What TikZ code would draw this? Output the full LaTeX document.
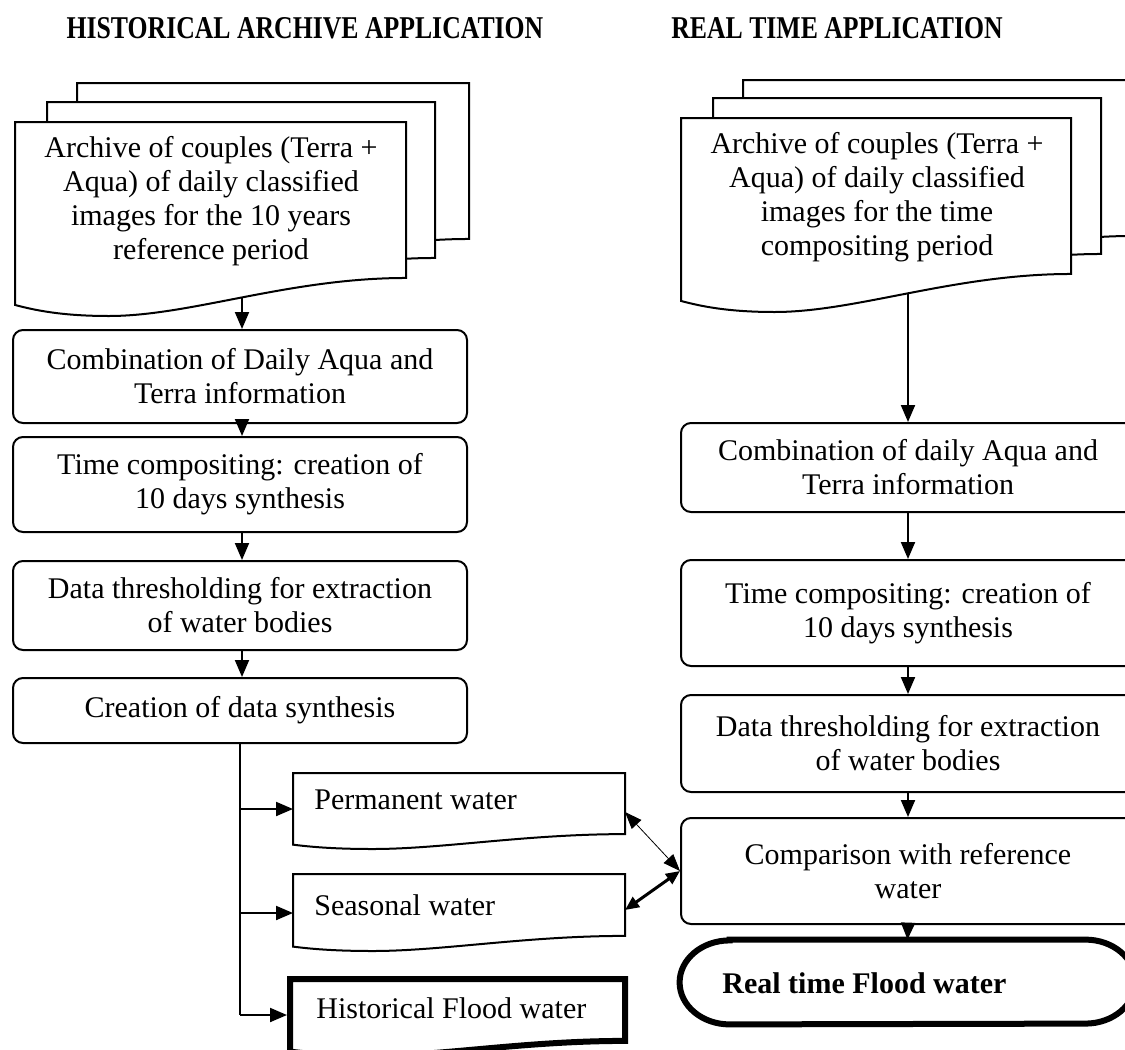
\documentclass[tikz,border=0pt]{standalone}
\usepackage{fontspec}
\setmainfont{Liberation Serif}
\usetikzlibrary{arrows.meta}
\newcommand{\bodyfont}{\fontsize{15}{17}\selectfont}
\newcommand{\docsheet}[5][]{%
  \filldraw[fill=white,draw=black,line width=1pt,#1] (#2,#3) -- ({#2+#4},#3) -- ({#2+#4},{#3+0.804*#5})
  .. controls ({#2+0.7*#4},{#3+0.804*#5}) and ({#2+0.45*#4},{#3+#5}) .. ({#2+0.24*#4},{#3+#5})
  .. controls ({#2+0.12*#4},{#3+#5}) and ({#2+0.05*#4},{#3+0.97*#5}) .. (#2,{#3+0.943*#5}) -- cycle;}
\begin{document}
\begin{tikzpicture}[x=0.5pt,y=-0.5pt,
  proc/.style={draw,line width=1pt,rounded corners=5pt,align=center,inner sep=0pt,font=\bodyfont},
  arr/.style={line width=1pt,-{Triangle[length=8.5pt,width=7pt]}},
  lbl/.style={font=\bodyfont,align=center,inner sep=0pt},
  head/.style={font=\fontsize{13}{15}\selectfont\bfseries,inner sep=0pt}]
\useasboundingbox (0,0) rectangle (1125,1050);
\clip (0,0) rectangle (1125,1050);

% headings
\node[head] (h1) at (305,28) {\scalebox{0.99}[1.22]{HISTORICAL ARCHIVE APPLICATION}};
\node[head] (h2) at (837,28) {\scalebox{0.99}[1.22]{REAL TIME APPLICATION}};

% left document stack
\docsheet{77}{83}{392}{194}
\docsheet{47}{102}{388}{194}
\docsheet{15}{122}{391}{194}
\node[lbl] (ldoc) at (211,201) {Archive of couples (Terra +\\Aqua) of daily classified\\images for the 10 years\\reference period};
\coordinate (ldocout) at (242,297);

% right document stack
\docsheet{743}{80}{390}{194}
\docsheet{713}{98}{388}{194}
\docsheet{681}{118}{390}{194}
\node[lbl] (rdoc) at (877,197) {Archive of couples (Terra +\\Aqua) of daily classified\\images for the time\\compositing period};
\coordinate (rdocout) at (908,293);

% left process boxes
\node[proc,minimum width=227pt,minimum height=46.5pt] (b1) at (240,376.5) {Combination of Daily Aqua and\\Terra information};
\node[proc,minimum width=227pt,minimum height=47.5pt] (b2) at (240,484.5) {Time compositing: creation of\\10 days synthesis};
\node[proc,minimum width=227pt,minimum height=44.5pt] (b3) at (240,605.5) {Data thresholding for extraction\\of water bodies};
\node[proc,minimum width=227pt,minimum height=32.5pt] (b4) at (240,710.5) {Creation of data synthesis};

% right process boxes
\node[proc,minimum width=227pt,minimum height=44.5pt] (r1) at (908,467.5) {Combination of daily Aqua and\\Terra information};
\node[proc,minimum width=227pt,minimum height=53pt] (r2) at (908,613) {Time compositing: creation of\\10 days synthesis};
\node[proc,minimum width=227pt,minimum height=48.5pt] (r3) at (908,743.5) {Data thresholding for extraction\\of water bodies};
\node[proc,minimum width=227pt,minimum height=53pt] (r4) at (908,871) {Comparison with reference\\water};

% terminator
\node[minimum width=227.5pt,minimum height=42pt,inner sep=0pt] (rt) at (907.5,982) {};
\draw[line width=3pt] ([xshift=25pt]rt.north west) -- ([xshift=-25pt]rt.north east)
  arc[start angle=90,end angle=-90,x radius=25pt,y radius=21pt]
  -- ([xshift=25pt]rt.south west)
  arc[start angle=270,end angle=90,x radius=25pt,y radius=21pt] -- cycle;
\node[font=\bodyfont\bfseries,anchor=west,inner sep=0pt] (rtl) at (722,983) {Real time Flood water};

% output documents
\docsheet{293}{773}{332}{76}
\node[lbl,anchor=west] (perm) at (314,800) {Permanent water};
\coordinate (perm-w) at (293,809);
\coordinate (perm-e) at (625,812);
\docsheet{293}{874}{332}{77}
\node[lbl,anchor=west] (seas) at (314,905) {Seasonal water};
\coordinate (seas-w) at (293,913);
\coordinate (seas-e) at (625,910);
\docsheet[line width=3pt]{290}{979}{335}{77}
\node[lbl,anchor=west] (hist) at (316,1008) {Historical Flood water};
\coordinate (hist-w) at (287,1015);

% left connectors
\draw[arr] (ldocout) -- (ldocout |- b1.north);
\draw[arr] ([xshift=1pt]b1.south) -- ([xshift=1pt]b2.north);
\draw[arr] ([xshift=1pt]b2.south) -- ([xshift=1pt]b3.north);
\draw[arr] ([xshift=1pt]b3.south) -- ([xshift=1pt]b4.north);
\draw[line width=1pt] (b4.south) -- (b4.south |- hist-w);
\draw[arr] (b4.south |- perm-w) -- (perm-w);
\draw[arr] (b4.south |- seas-w) -- (seas-w);
\draw[arr] (b4.south |- hist-w) -- (hist-w);

% right connectors
\draw[arr] (rdocout) -- (rdocout |- r1.north);
\draw[arr] (r1.south) -- (r2.north);
\draw[arr] (r2.south) -- (r3.north);
\draw[arr] (r3.south) -- (r4.north);
\draw[arr] (r4.south) -- (rt.north);

% comparison links
\draw[line width=0.4pt,{Triangle[length=8.5pt,width=6.5pt]}-{Triangle[length=8.5pt,width=6.5pt]}] (perm-e) -- (r4.west);
\draw[line width=1.5pt,{Triangle[length=7pt,width=6pt]}-{Triangle[length=7pt,width=6pt]}] (seas-e) -- (r4.west);
\end{tikzpicture}
\end{document}
